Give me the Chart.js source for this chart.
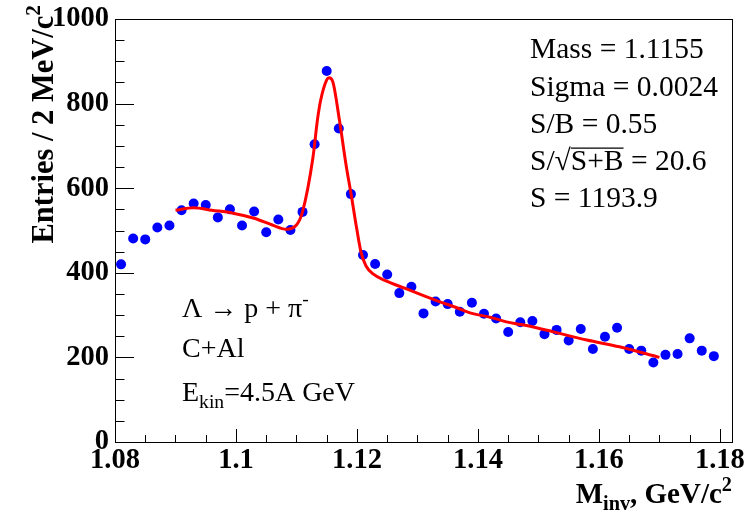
<!doctype html>
<html>
<head>
<title>Lambda invariant mass</title>
<script src="https://cdn.jsdelivr.net/npm/chart.js@4.4.9/dist/chart.umd.min.js"></script>
<script>

// bin centres (2 MeV bins) and entries
const binCenters = [1.081, 1.083, 1.085, 1.087, 1.089, 1.091, 1.093, 1.095, 1.097, 1.099,
                    1.101, 1.103, 1.105, 1.107, 1.109, 1.111, 1.113, 1.115, 1.117, 1.119,
                    1.121, 1.123, 1.125, 1.127, 1.129, 1.131, 1.133, 1.135, 1.137, 1.139,
                    1.141, 1.143, 1.145, 1.147, 1.149, 1.151, 1.153, 1.155, 1.157, 1.159,
                    1.161, 1.163, 1.165, 1.167, 1.169, 1.171, 1.173, 1.175, 1.177, 1.179];
const entries = [420, 481, 479, 507, 512, 548, 564, 560, 531, 550,
                 512, 545, 496, 526, 501, 544, 704, 877, 741, 586,
                 442, 421, 396, 352, 367, 304, 332, 326, 308, 329,
                 303, 292, 260, 283, 286, 255, 265, 240, 267, 220,
                 249, 270, 220, 216, 188, 206, 208, 245, 216, 203];

// fit curve
const fitX = [1.090, 1.093, 1.096, 1.0995, 1.103, 1.106, 1.1083, 1.110, 1.111, 1.1127,
              1.1135, 1.114, 1.115, 1.1154, 1.116, 1.1171, 1.1182, 1.1191, 1.120, 1.1207,
              1.1215, 1.1226, 1.1248, 1.128, 1.131, 1.1336, 1.1364, 1.139, 1.142, 1.1447,
              1.1474, 1.150, 1.1523, 1.158, 1.1634, 1.170];
const fitY = [548, 554, 548, 541, 529, 513, 503, 513, 544, 670,
              765, 808, 856, 861, 852, 761, 655, 580, 501, 447,
              416, 398, 381, 363, 346, 332, 318, 304, 295, 284,
              277, 269, 261, 241, 225, 200];

const xTicks = [1.08, 1.10, 1.12, 1.14, 1.16, 1.18];
const xTickLabels = ['1.08', '1.1', '1.12', '1.14', '1.16', '1.18'];
const yTicks = [0, 200, 400, 600, 800, 1000];
const yTickLabels = ['0', '200', '400', '600', '800', '1000'];

const statLines = ['Mass = 1.1155', 'Sigma = 0.0024', 'S/B = 0.55', 'S/\u221AS+B = 20.6', 'S = 1193.9'];

const SERIF = '"Liberation Serif", "DejaVu Serif", serif';

// draw a row of text pieces: [text, mode] mode 0 normal, 1 sub, 2 sup, 3 overline
function rich(ctx, segs, x, y, size, bold, align) {
  const w = bold ? 'bold ' : '';
  let widths = segs.map(([t, m]) => {
    ctx.font = w + ((m === 1 || m === 2) ? size * 0.7 : size) + 'px ' + SERIF;
    return ctx.measureText(t).width;
  });
  let total = widths.reduce((a, b) => a + b, 0);
  let cx = align === 'right' ? x - total : x;
  segs.forEach(([t, m], i) => {
    ctx.font = w + ((m === 1 || m === 2) ? size * 0.7 : size) + 'px ' + SERIF;
    let dy = m === 1 ? size * 0.24 : (m === 2 ? -size * 0.42 : 0);
    ctx.fillText(t, cx, y + dy);
    if (m === 3) {
      ctx.beginPath();
      ctx.lineWidth = 1.2;
      ctx.moveTo(cx, y - size * 0.74);
      ctx.lineTo(cx + widths[i], y - size * 0.74);
      ctx.stroke();
    }
    cx += widths[i];
  });
}

const rootStyle = {
  id: 'rootStyle',
  afterDraw(chart) {
    const ctx = chart.ctx;
    const xs = chart.scales.x, ys = chart.scales.y;
    const a = chart.chartArea;
    ctx.save();
    ctx.strokeStyle = '#000';
    ctx.fillStyle = '#000';
    ctx.lineWidth = 1;
    ctx.strokeRect(Math.round(a.left) + 0.5, Math.round(a.top) + 0.5,
                   Math.round(a.right - a.left), Math.round(a.bottom - a.top));

    // x ticks (inside, bottom)
    ctx.beginPath();
    for (let v = 1.08; v <= 1.1801; v += 0.005) {
      let px = Math.round(xs.getPixelForValue(v)) + 0.5;
      let major = Math.abs(Math.round(v * 50) - v * 50) < 1e-6;
      ctx.moveTo(px, a.bottom);
      ctx.lineTo(px, a.bottom - (major ? 13 : 7));
    }
    // y ticks (inside, left)
    for (let v = 0; v <= 1000; v += 50) {
      let py = Math.round(ys.getPixelForValue(v)) + 0.5;
      ctx.moveTo(a.left, py);
      ctx.lineTo(a.left + (v % 200 === 0 ? 19 : 9.5), py);
    }
    ctx.stroke();

    // tick labels
    ctx.font = 'bold 28.5px ' + SERIF;
    ctx.textAlign = 'center';
    ctx.textBaseline = 'top';
    xTicks.forEach((v, i) => ctx.fillText(xTickLabels[i], xs.getPixelForValue(v), a.bottom + 4));
    ctx.textAlign = 'right';
    ctx.textBaseline = 'middle';
    yTicks.forEach((v, i) => ctx.fillText(yTickLabels[i], a.left - 6, ys.getPixelForValue(v)));

    // axis titles
    ctx.textAlign = 'left';
    ctx.textBaseline = 'alphabetic';
    rich(ctx, [['M', 0], ['inv', 1], [', GeV/c', 0], ['2', 2]], a.right, 503, 29, true, 'right');
    ctx.save();
    ctx.translate(53, 5);
    ctx.rotate(-Math.PI / 2);
    rich(ctx, [['Entries / 2 MeV/c', 0], ['2', 2]], 0, 0, 30.5, true, 'right');
    ctx.restore();

    // fit statistics
    const SF = 29.5;
    rich(ctx, [[statLines[0], 0]], 530, 58, SF, false);
    rich(ctx, [[statLines[1], 0]], 530, 96, SF, false);
    rich(ctx, [[statLines[2], 0]], 530, 133, SF, false);
    rich(ctx, [['S/', 0], ['\u221A', 0], ['S+B', 3], [' = 20.6', 0]], 530, 170, SF, false);
    rich(ctx, [[statLines[4], 0]], 530, 207, SF, false);

    // reaction labels
    const LF = 28;
    rich(ctx, [['\u039B \u2192 p + \u03C0', 0], ['-', 2]], 182, 317, LF, false);
    rich(ctx, [['C+Al', 0]], 182, 357, LF, false);
    rich(ctx, [['E', 0], ['kin', 1], ['=4.5A GeV', 0]], 182, 401, LF, false);
    ctx.restore();
  }
};

function go() {
  const canvas = document.getElementById('minv');
  new Chart(canvas, {
    type: 'scatter',
    data: {
      datasets: [
        {
          label: 'fit',
          data: fitX.map((x, i) => ({ x, y: fitY[i] })),
          showLine: true,
          borderColor: '#ff0000',
          borderWidth: 3,
          pointRadius: 0,
          cubicInterpolationMode: 'monotone',
          order: 0,
        },
        {
          label: 'data',
          data: binCenters.map((x, i) => ({ x, y: entries[i] })),
          backgroundColor: '#0000ff',
          borderWidth: 0,
          pointRadius: 5,
          order: 1,
        },
      ],
    },
    options: {
      responsive: false,
      animation: false,
      layout: { padding: { left: 0, top: 19, right: 15, bottom: 0 } },
      plugins: { legend: { display: false }, tooltip: { enabled: false } },
      scales: {
        x: {
          type: 'linear', min: 1.08, max: 1.182,
          grid: { display: false, drawTicks: false },
          border: { display: false },
          ticks: { display: false },
          afterFit: s => { s.height = 76; },
        },
        y: {
          min: 0, max: 1000,
          grid: { display: false, drawTicks: false },
          border: { display: false },
          ticks: { display: false },
          afterFit: s => { s.width = 115; },
        },
      },
    },
    plugins: [rootStyle],
  });
}

window.onload = go;

</script>
</head>
<body style="margin:0; background:#fff">
<canvas id="minv" width="747" height="518"></canvas>
</body>
</html>
